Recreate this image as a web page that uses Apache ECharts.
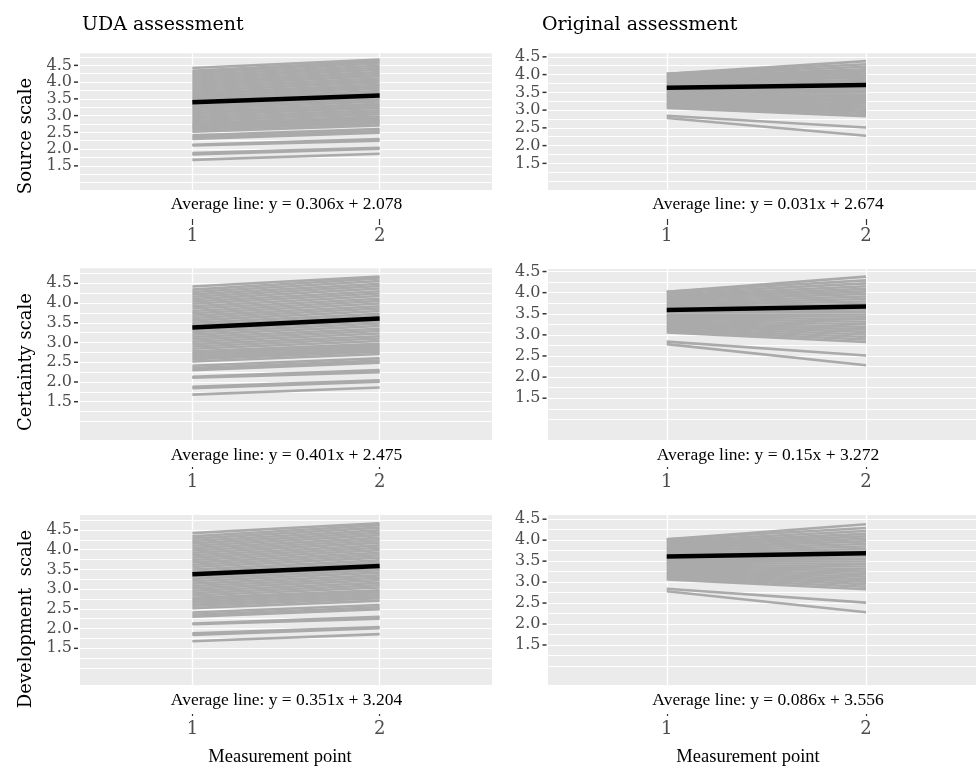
<!DOCTYPE html>
<html><head><meta charset="utf-8">
<script src="https://cdn.jsdelivr.net/npm/echarts@6/dist/echarts.min.js"></script>
<style>html,body{margin:0;padding:0;background:#fff}#c{width:976px;height:767px}</style>
</head><body><div id="c"></div>
<script>
// ---------- data ----------
const xTickValues = [1, 2];
const yLabelValues = [1.5, 2, 2.5, 3, 3.5, 4, 4.5];
const yGridValues = [1, 1.25, 1.5, 1.75, 2, 2.25, 2.5, 2.75, 3, 3.25, 3.5, 3.75, 4, 4.25, 4.5, 4.75];
const columnTitles = ['UDA assessment', 'Original assessment'];
const rowTitles = ['Source scale', 'Certainty scale', 'Development  scale'];
const equationsUDA = ['Average line: y = 0.306x + 2.078', 'Average line: y = 0.401x + 2.475', 'Average line: y = 0.351x + 3.204'];
const equationsOrig = ['Average line: y = 0.031x + 2.674', 'Average line: y = 0.15x + 3.272', 'Average line: y = 0.086x + 3.556'];
const xTitle = 'Measurement point';

// individual trajectories (value at measurement point 1 and 2)
const udaPoint1 = [1.68, 1.84, 1.88, 2.11, 2.13, 2.30, 2.35, 2.41, 2.52, 2.58, 2.63,
  2.68, 2.73, 2.78, 2.84, 2.90, 2.96, 3.02, 3.08, 3.14, 3.20, 3.26, 3.32, 3.38, 3.44, 3.50,
  3.56, 3.62, 3.68, 3.74, 3.80, 3.86, 3.92, 3.98, 4.04, 4.10, 4.16, 4.22, 4.28, 4.34, 4.42];
const udaPoint2 = [1.86, 2.01, 2.04, 2.25, 2.30, 2.49, 2.54, 2.60, 2.71, 2.77, 2.82,
  2.87, 2.92, 2.97, 3.04, 3.10, 3.16, 3.23, 3.29, 3.35, 3.42, 3.48, 3.54, 3.61, 3.67, 3.73,
  3.80, 3.86, 3.92, 3.99, 4.05, 4.11, 4.18, 4.24, 4.30, 4.37, 4.43, 4.49, 4.56, 4.62, 4.67];
const origPoint1 = [2.84, 2.78, 4.02, 3.06, 3.10, 3.14, 3.18, 3.22, 3.26, 3.30, 3.34, 3.38,
  3.42, 3.46, 3.50, 3.54, 3.58, 3.62, 3.66, 3.70, 3.74, 3.78, 3.82, 3.86, 3.90, 3.94, 3.98, 4.02];
const origPoint2 = [2.51, 2.28, 4.38, 2.83, 2.89, 2.95, 3.01, 3.07, 3.13, 3.19, 3.25, 3.31,
  3.37, 3.43, 3.49, 3.55, 3.61, 3.67, 3.73, 3.79, 3.85, 3.91, 3.97, 4.03, 4.09, 4.15, 4.22, 4.29];

// average lines per row (Source, Certainty, Development)
const avgUDAPoint1 = [3.40, 3.38, 3.38];
const avgUDAPoint2 = [3.60, 3.61, 3.59];
const avgOrigPoint1 = [3.63, 3.59, 3.61];
const avgOrigPoint2 = [3.71, 3.67, 3.69];

// ---------- layout ----------
const rowLayout = [
  [{top: 53.3, h: 136.7, ymin: 0.78, ymax: 4.86}, {top: 53.3, h: 136.7, ymin: 0.75, ymax: 4.60}],
  [{top: 268.3, h: 171.7, ymin: 0.53, ymax: 4.88}, {top: 269, h: 171, ymin: 0.51, ymax: 4.56}],
  [{top: 515, h: 170, ymin: 0.57, ymax: 4.88}, {top: 515, h: 170, ymin: 0.545, ymax: 4.60}]
];
const colLayout = [
  {left: 80, width: 412, xmin: 0.4, xmax: 2.6, lblMargin: 2, eqX: 286.5, titleX: 280},
  {left: 548, width: 428, xmin: 0.404, xmax: 2.552, lblMargin: 1.5, eqX: 768, titleX: 748}
];
const xAxisLayout = [
  {offset: 29, tick: 6, margin: 8, eqY: 204},
  {offset: 27, tick: 2, margin: 6.5, eqY: 455},
  {offset: 29, tick: 2, margin: 6, eqY: 700}
];
const serif = '"DejaVu Serif", serif';
const serif2 = '"Liberation Serif", serif';

const grids = [], xAxes = [], yAxes = [], series = [], graphics = [];
let idx = 0;
for (let r = 0; r < 3; r++) {
  for (let c = 0; c < 2; c++) {
    const L = rowLayout[r][c], C = colLayout[c], X = xAxisLayout[r];
    grids.push({left: C.left, width: C.width, top: L.top, height: L.h, show: true,
      backgroundColor: '#ebebeb', borderWidth: 0, containLabel: false});
    xAxes.push({type: 'value', gridIndex: idx, min: C.xmin, max: C.xmax, offset: X.offset,
      axisLine: {show: false},
      axisTick: {show: true, length: X.tick, customValues: xTickValues, lineStyle: {color: '#333', width: 1.2}},
      axisLabel: {customValues: xTickValues, margin: X.margin, color: '#4d4d4d', fontFamily: serif, fontSize: 18,
        showMinLabel: true, showMaxLabel: true, hideOverlap: false,
        formatter: v => String(v)},
      splitLine: {show: true, lineStyle: {color: '#ffffff', width: 1.3}}
    });
    yAxes.push({type: 'value', gridIndex: idx, min: L.ymin, max: L.ymax,
      axisLine: {show: false},
      axisTick: {show: false, customValues: yGridValues},
      axisLabel: {customValues: yLabelValues, margin: C.lblMargin,
        showMinLabel: true, showMaxLabel: true, hideOverlap: false,
        fontSize: 12, lineHeight: 11,
        formatter: v => '{a|' + v.toFixed(1) + '}{g|}{t|}',
        rich: {
          a: {fontFamily: serif, fontSize: 16, lineHeight: 11, color: '#4d4d4d'},
          g: {width: 2, lineHeight: 11},
          t: {width: 4, height: 1.5, backgroundColor: '#333333', verticalAlign: 'middle'}
        }},
      splitLine: {show: true, lineStyle: {color: '#ffffff', width: 1.2}}
    });
    const p1 = c === 0 ? udaPoint1 : origPoint1;
    const p2 = c === 0 ? udaPoint2 : origPoint2;
    series.push({type: 'lines', coordinateSystem: 'cartesian2d', xAxisIndex: idx, yAxisIndex: idx,
      silent: true, z: 2,
      lineStyle: {color: '#aaaaaa', width: 2.6, opacity: 1},
      data: p1.map((v, k) => ({coords: [[xTickValues[0], v], [xTickValues[1], p2[k]]]}))
    });
    const a1 = c === 0 ? avgUDAPoint1[r] : avgOrigPoint1[r];
    const a2 = c === 0 ? avgUDAPoint2[r] : avgOrigPoint2[r];
    series.push({type: 'line', xAxisIndex: idx, yAxisIndex: idx, z: 3, silent: true,
      symbol: 'none', lineStyle: {color: '#000', width: 4.5},
      data: [[xTickValues[0], a1], [xTickValues[1], a2]]});
    graphics.push({type: 'text', x: C.eqX, y: X.eqY, silent: true,
      style: {text: (c === 0 ? equationsUDA : equationsOrig)[r], align: 'center', verticalAlign: 'middle',
        fill: '#000', font: '17.5px ' + serif2}});
    idx++;
  }
}
graphics.push({type: 'text', x: 82, y: 25, style: {text: columnTitles[0], align: 'left', verticalAlign: 'middle', fill: '#000', font: '19px ' + serif}});
graphics.push({type: 'text', x: 542, y: 25, style: {text: columnTitles[1], align: 'left', verticalAlign: 'middle', fill: '#000', font: '19px ' + serif}});
const rowTitleY = [136, 362, 619];
rowTitles.forEach((t, r) => graphics.push({type: 'text', x: 26, y: rowTitleY[r], rotation: Math.PI / 2,
  style: {text: t, align: 'center', verticalAlign: 'middle', fill: '#000', font: '18px ' + serif}}));
colLayout.forEach(C => graphics.push({type: 'text', x: C.titleX, y: 757,
  style: {text: xTitle, align: 'center', verticalAlign: 'middle', fill: '#000', font: '18.5px ' + serif2}}));

const chart = echarts.init(document.getElementById('c'), null, {renderer: 'canvas'});
chart.setOption({animation: false, grid: grids, xAxis: xAxes, yAxis: yAxes, series: series, graphic: graphics});
</script></body></html>
